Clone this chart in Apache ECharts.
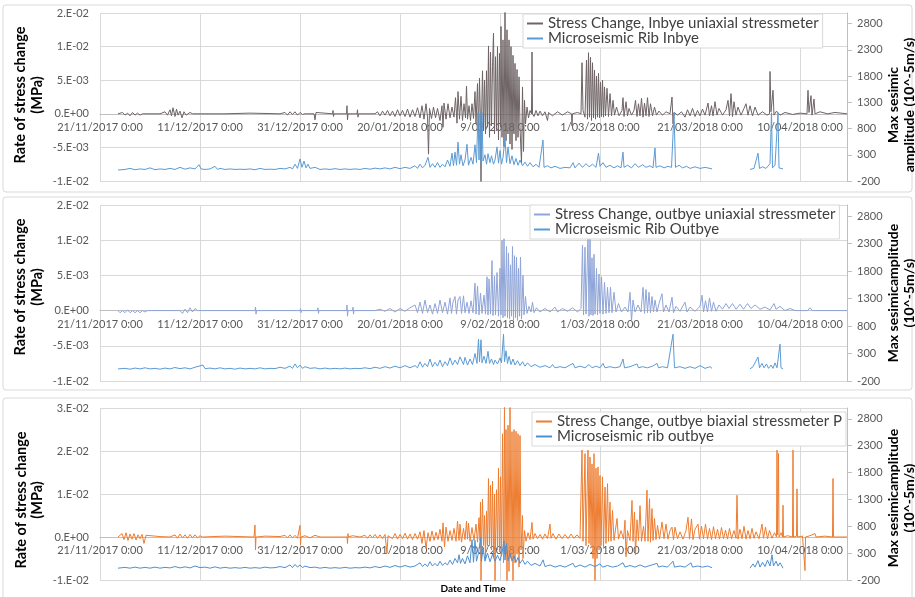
<!DOCTYPE html>
<html>
<head>
<meta charset="utf-8">
<script src="https://cdn.jsdelivr.net/npm/echarts@6/dist/echarts.min.js"></script>
<style>
  html, body { margin: 0; padding: 0; background: #fff; }
  #main { width: 915px; height: 597px; }
</style>
</head>
<body>
<div id="main"></div>
<script>
// x axis: days since 21/11/2017 0:00
const xTickLabels = ['21/11/2017 0:00', '11/12/2017 0:00', '31/12/2017 0:00', '20/01/2018 0:00',
  '9/02/2018 0:00', '1/03/2018 0:00', '21/03/2018 0:00', '10/04/2018 0:00'];

// stress axis ticks (values in 1e-3 MPa) and their printed labels
const stressTicksA = [-10, -5, 0, 5, 10, 15];
const stressLabelsA = ['-1.E-02', '-5.E-03', '0.E+00', '5.E-03', '1.E-02', '2.E-02'];
const stressTicksB = [-10, 0, 10, 20, 30];
const stressLabelsB = ['-1.E-02', '0.E+00', '1.E-02', '2.E-02', '3.E-02'];
const seismicTicks = [-200, 300, 800, 1300, 1800, 2300, 2800];

// [day, stress change x1e-3 MPa]
const inbyeStress = [
  [3.6,0],[4.5,0.2],[5,-0.2],[5.5,0.1],[6,-0.3],[6.5,0.2],[7,-0.2],[7.5,0.1],[8,-0.2],[8.5,0],[12,0],[13,0.3],[13.5,-0.2],
  [14,0.6],[14.3,-0.3],[14.6,0.9],[15,-0.4],[15.3,0.7],[15.6,-0.2],[16,0.4],[16.4,-0.6],[16.8,0.3],[17.2,-0.2],[18,0.2],[18.5,0],
  [25,0],[30,0.1],[36,0],[37,0.2],[37.5,-0.2],[38,0.3],[38.5,-0.1],[39,0.3],[39.5,-0.2],[40,0.2],[40.5,-0.1],[41,0],
  [42.8,0],[43,-0.9],[43.2,0.2],[43.4,0],[46.5,0],[46.6,0.5],[46.7,-0.4],[46.8,0],
  [49.3,0],[49.4,1.2],[49.5,-0.9],[49.6,0],[51.4,0],[51.5,0.6],[51.6,-0.5],[51.7,0],
  [55,0],[55.5,0.3],[56,-0.3],[56.5,0.4],[57,-0.2],[57.5,0.5],[58,-0.3],[58.5,0.4],[59,-0.4],[59.5,0.6],[60,-0.3],[60.5,0.5],
  [61,-0.4],[61.5,0.7],[62,-0.5],[62.5,0.6],[63,-0.4],[63.5,0.9],[64,-0.6],[64.4,1.2],[64.8,-0.8],[65.2,1.5],[65.5,-0.5],[65.7,-6],
  [65.9,0.8],[66.3,-0.7],[66.7,1],[67.1,-0.6],[67.5,0.8],[68,-1],[68.4,1.2],[68.6,-2],[68.8,1.6],[69.2,-0.8],[69.6,1.5],[70,-0.6],
  [70.4,1],[70.8,-0.5],[71.1,2.4],[71.4,-1.4],[71.6,3.3],[71.9,-0.8],[72.2,2.6],[72.5,-1],[72.8,1.5],[73.1,-0.6],[73.3,4.1],[73.5,-0.8],
  [73.8,1.2],[74.1,-1],[74.4,1.5],[74.7,-0.7],[75,3.3],[75.2,-1.5],[75.5,4.5],[75.7,-2.8],[75.9,5.3],[76.1,-1.4],[76.2,-10.5],[76.3,-1],
  [76.5,6.4],[76.7,-2.5],[76.9,5],[77.1,-3],[77.3,6.4],[77.5,-2],[77.7,10.1],[77.9,-3.5],[78.1,9.2],[78.3,-1.8],[78.5,7],[78.7,12],
  [78.9,-3],[79.1,8.5],[79.3,-2.5],[79.5,10],[79.7,-3.9],[79.9,9],[80.1,-2],[80.2,13],[80.4,-3.5],[80.6,11],[80.8,-4.9],[81,15.5],
  [81.2,-4],[81.4,12.5],[81.6,-3],[81.8,11],[82,-4.5],[82.2,10],[82.4,-5.3],[82.6,8.7],[82.8,-3],[83,7.5],[83.2,-4],[83.4,6.6],
  [83.6,-3.5],[83.8,5.5],[84,-2],[84.3,-7.4],[84.5,4],[84.7,-5.6],[84.9,2],[85.1,-1.5],[85.4,1],[85.7,-0.6],[86,0.5],[86.3,0],
  [86.4,9.2],[86.5,0],[86.8,-0.4],[87.2,0.5],[87.6,-0.3],[88,0.4],[88.5,-0.3],[89,0.3],[89.5,-1],[89.7,0.2],[90.5,-0.3],[91.5,0.3],
  [92.5,-0.2],[93.5,0.3],[94.3,0],[94.4,-1.8],[94.5,0],[95.5,0.2],[96.2,0],[96.4,7.6],[96.6,0.5],[97,-0.5],[97.3,8],[97.5,-0.8],
  [97.7,9.1],[97.9,-0.5],[98.1,8.4],[98.3,-1],[98.5,7.6],[98.7,-0.6],[98.9,6.5],[99.1,-0.8],[99.3,5.6],[99.5,-0.5],[99.7,6],[99.9,-0.6],
  [100.1,4.7],[100.3,-0.4],[100.5,5],[100.7,-0.5],[100.9,4],[101.1,-0.3],[101.4,3.8],[101.7,-0.4],[102,3],[102.3,-0.3],[102.6,2],[102.9,-0.2],
  [103.3,1],[103.8,-0.3],[104.4,0.5],[104.6,2.4],[104.8,-0.4],[105.2,1.8],[105.5,-0.3],[105.8,0.8],[106.3,-0.2],[106.8,0.5],[107.1,2],[107.4,-0.4],
  [107.7,1.5],[108,-0.3],[108.3,2.3],[108.6,-0.5],[108.9,1.6],[109.2,-0.3],[109.5,2.4],[109.8,-0.4],[110.1,1.5],[110.5,-0.3],[110.9,1],[111.3,-0.2],
  [111.8,0.4],[112.5,-0.2],[113.2,0.3],[114,0],[114.4,2.5],[114.6,-1.5],[114.8,0.2],[115.5,-0.2],[116.3,0.3],[117,-0.5],[117.5,0.6],[118,-0.3],
  [118.5,0.8],[119,-0.4],[119.5,0.5],[120,-0.3],[120.5,0.7],[121,-0.2],[121.6,1.6],[121.9,-0.3],[122.3,1.2],[122.6,-0.3],[123,1.8],[123.4,-0.2],
  [123.8,0.8],[124.5,-0.2],[125.2,0.6],[125.6,2],[125.9,-0.3],[126.2,3],[126.5,-0.4],[126.8,1.8],[127.2,-0.2],[127.6,1],[128.2,-0.2],[128.8,0.8],
  [129.2,1.5],[129.6,-0.2],[130,1.2],[130.5,-0.3],[131,1],[131.6,-0.2],[132.5,0.3],[133.4,-0.2],[133.9,0],[134,6.3],[134.2,0.3],[134.6,3.5],
  [134.8,-0.2],[135.3,0.4],[136,-0.2],[137,0.2],[138.5,-0.1],[140,0.1],[141.4,0],[141.6,3.5],[141.8,0.2],[142.2,2.7],[142.4,-0.2],[142.8,2.2],
  [143,0],[144,0.3],[145.5,0],[147,0.2],[149.4,0]
];

// [day, max seismic amplitude 10^-5 m/s]
const inbyeSeismic = [
  [3.6,10],[5,20],[6,40],[7,15],[8,30],[9,20],[10,50],[11,15],[12,30],[13,20],[14,40],[15,20],[16,60],[17,25],[18,50],[19,30],
  [19.8,110],[20.2,30],[21,20],[22,30],[23,80],[23.5,20],[24,40],[25,20],[26,30],[27,20],[28,25],[29,20],[30,30],[31,15],[32,40],
  [33,20],[34,25],[35,20],[36,40],[37,30],[38,60],[38.5,30],[39,120],[39.5,40],[40,220],[40.4,60],[40.8,180],[41.2,50],[41.6,120],
  [42,40],[43,60],[44,20],[45,30],[46,20],[47,35],[48,20],[49,30],[50,20],[51,30],[52,20],[53,40],[54,25],[55,45],[56,30],[57,50],
  [58,30],[59,60],[60,35],[61,60],[62,40],[63,90],[63.5,40],[64,120],[64.5,50],[65,100],[65.6,250],[66,60],[66.5,130],[67,60],
  [67.5,150],[68,60],[68.5,120],[69,70],[69.5,200],[70,80],[70.4,330],[70.7,90],[71,350],[71.3,100],[71.6,540],[71.9,120],[72.2,300],
  [72.6,90],[73,200],[73.4,500],[73.7,100],[74.2,250],[74.6,120],[75,490],[75.3,150],[75.6,1100],[75.8,200],[76,1080],[76.2,150],
  [76.4,1100],[76.6,180],[77,300],[77.3,120],[77.6,320],[78,150],[78.3,280],[78.7,120],[79,200],[79.4,450],[79.7,140],[80,380],
  [80.3,120],[80.6,250],[81,620],[81.3,150],[81.6,450],[82,130],[82.4,280],[82.8,110],[83.2,230],[83.6,100],[84,200],[84.5,90],
  [85,160],[85.5,80],[86,150],[86.6,70],[87.2,120],[87.8,60],[88.6,580],[88.8,60],[89.5,90],[90.2,50],[91,80],[92,40],[93,60],
  [94,50],[94.6,150],[95,50],[95.8,140],[96.5,60],[97.2,130],[97.8,70],[98.5,120],[99.2,60],[99.7,330],[100,80],[100.6,150],
  [101.2,60],[102,100],[102.8,50],[103.5,90],[104.2,50],[104.6,350],[104.8,60],[105.5,100],[106.3,50],[107,130],[107.7,60],[108.5,110],
  [109.2,60],[110,90],[110.6,50],[111,430],[111.2,60],[112,90],[112.8,50],[113.6,80],[114.3,60],[114.8,1100],[115.1,60],[115.8,100],
  [116.5,50],[117.3,80],[118,40],[119,70],[120,40],[121,60],[122,40],[122.4,30],[126,'-'],
  [130,20],[130.8,40],[131.6,330],[131.9,40],[132.5,70],[133.2,40],[134,130],[134.3,1100],[134.5,50],[135,100],[135.6,1100],
  [135.8,50],[136.2,80],[136.6,30]
];

const outbyeStress = [
  [3.6,0],[4,-0.3],[4.5,0],[5,-0.3],[5.5,0.1],[6,-0.3],[6.5,0],[7,-0.3],[7.5,0],[8,-0.3],[8.5,0],[9,-0.2],[9.5,0],
  [16,0],[16.5,-0.4],[17,0.2],[17.5,-0.3],[18,0.4],[18.5,-0.2],[19,0.3],[19.5,0],
  [31,0],[31.1,0.5],[31.2,-0.5],[31.3,0],[40,0],[40.1,0.3],[40.2,-0.3],[40.3,0],[43.5,0],[43.6,0.4],[43.7,-0.4],[43.8,0],
  [49.3,0],[49.4,0.8],[49.5,-0.8],[49.6,0],[50.5,0],[50.6,0.5],[50.7,-0.5],[50.8,0],
  [55,0],[56,0.2],[57,-0.1],[58,0.3],[59,-0.2],[60,0.3],[61,-0.1],[62,0.4],[63,0.8],[63.5,-0.3],[64,1.2],[64.5,-0.4],[65,1.5],
  [65.5,-0.3],[66,0.8],[66.5,-0.5],[67,1],[67.5,-0.4],[68,1.5],[68.5,-0.3],[69,1.2],[69.5,-0.5],[70,1.8],[70.3,-0.4],[70.6,1.2],
  [71,2],[71.3,-0.5],[71.6,1.5],[72,2],[72.3,-0.4],[72.7,2.1],[73,-0.3],[73.4,1.2],[73.8,-0.4],[74.2,1.4],[74.6,-0.3],[75,3.9],
  [75.2,-0.5],[75.5,3.5],[75.8,-0.6],[76.1,2.5],[76.4,-0.4],[76.8,2.2],[77.1,-0.5],[77.4,4.8],[77.6,-0.6],[77.8,4.5],[78.1,-0.5],
  [78.4,7.1],[78.6,-0.7],[78.9,4.9],[79.1,-0.6],[79.4,5.4],[79.7,-0.8],[80,6],[80.2,-0.6],[80.4,10],[80.6,-1],[80.8,10.2],[81,-0.8],
  [81.3,9.1],[81.5,-1],[81.7,8.2],[81.9,-1.2],[82.1,6.5],[82.3,-0.8],[82.5,9.1],[82.7,-1.4],[82.9,7.8],[83.1,-1],[83.3,7.6],[83.5,-1.4],
  [83.7,6],[83.9,-0.8],[84.1,7.6],[84.3,-1.2],[84.6,5],[84.8,-0.6],[85.1,2],[85.4,-0.4],[85.8,0.6],[86.2,-0.2],[86.5,1.2],[86.8,-0.3],
  [87.3,0.4],[88,-0.2],[89,0.3],[90,-0.2],[91,0.5],[91.5,-0.2],[92.5,0.3],[93.5,-0.1],[94.5,0.4],[95.5,-0.2],[96.2,0.3],[96.5,9.3],
  [96.7,-0.6],[97,9],[97.2,-0.5],[97.6,10.7],[97.8,-0.8],[98,10.3],[98.2,-0.6],[98.4,7.5],[98.6,-0.7],[98.8,8],[99,-0.5],[99.3,6],
  [99.5,-0.6],[99.8,5.2],[100,-0.4],[100.3,4.8],[100.6,-0.5],[100.9,4],[101.2,-0.4],[101.5,3.3],[101.8,-0.3],[102.1,3.3],[102.4,-0.3],
  [102.8,2.6],[103.2,-0.2],[103.7,1],[104.3,-0.2],[105,0.5],[105.6,-0.2],[106,2.6],[106.3,-1.5],[106.6,1.5],[107,-0.2],[107.6,0.8],
  [108.2,-0.2],[108.6,3.3],[108.9,-0.4],[109.2,3],[109.5,-0.3],[109.8,2.6],[110.1,-0.3],[110.4,2],[110.7,-0.2],[111,1.5],[111.4,-0.2],
  [111.8,1],[112.4,2.4],[112.7,-0.2],[113.2,0.8],[113.8,-0.2],[114.4,1.9],[114.7,-0.3],[115.2,0.6],[116,-0.1],[117,1.2],[117.4,-0.2],
  [118,0.5],[119,-0.1],[120,0.6],[120.4,2.2],[120.7,-0.2],[121.1,1.4],[121.5,-0.2],[121.9,1.8],[122.3,-0.1],[122.7,1.2],[123.2,-0.1],
  [123.8,0.8],[124.5,0.2],[125.2,1],[125.8,0.3],[126.5,1],[127.2,0.2],[128,0.9],[128.7,0.2],[129.5,1],[130.2,0.3],[131,0.8],[132,0.2],
  [133,0.5],[134,0.1],[134.8,1],[135.2,0.2],[136,0.6],[137,0],[138,0.3],[139,0],[141.5,0],[142,0.4],[142.5,0],[149.4,0]
];

const outbyeSeismic = [
  [3.6,20],[5,30],[6,15],[7,35],[8,20],[9,40],[10,20],[11,30],[12,15],[13,35],[14,20],[15,45],[16,25],[17,40],[18,20],[19,50],
  [20.6,90],[21,25],[22,35],[23,20],[24,40],[25,20],[26,30],[27,15],[28,35],[29,20],[30,30],[31,20],[32,40],[33,20],[34,30],
  [35,25],[36,50],[37,30],[38,70],[38.5,30],[39,110],[39.5,40],[40,90],[40.5,30],[41,60],[42,30],[43,40],[44,20],[45,35],[46,20],
  [47,30],[48,20],[49,35],[50,20],[51,30],[52,25],[53,40],[54,25],[55,50],[56,30],[57,60],[58,35],[59,70],[60,40],[61,80],[62,40],
  [63,80],[63.5,40],[64,150],[64.5,50],[65,120],[65.5,60],[66,200],[66.5,60],[67,140],[67.5,70],[68,180],[68.5,60],[69,150],
  [69.5,80],[70,220],[70.5,90],[71,180],[71.5,100],[72,240],[72.4,250],[72.7,100],[73,230],[73.5,90],[74,200],[74.5,100],[75,300],
  [75.4,120],[75.7,560],[75.9,150],[76.2,550],[76.4,130],[76.8,250],[77.2,120],[77.6,340],[77.9,120],[78.3,200],[78.7,100],[79,180],
  [79.5,110],[80,220],[80.3,130],[80.7,650],[80.9,150],[81.2,350],[81.5,120],[81.8,250],[82.2,100],[82.6,200],[83,90],[83.5,170],
  [84,80],[84.5,150],[85,70],[85.5,130],[86.2,60],[87,100],[88,50],[89,80],[90,40],[90.5,100],[91,40],[92,60],[93,40],[94.6,120],
  [95,40],[96,70],[97,40],[97.8,100],[98.4,40],[99.2,70],[100,40],[100.6,120],[101,40],[102,60],[103,40],[104,60],[104.6,200],
  [104.9,40],[106,60],[107.4,110],[107.7,40],[108.5,60],[109.5,40],[110.5,70],[111.4,120],[111.7,40],[112.5,60],[113.5,40],
  [114.6,650],[114.9,40],[116,60],[117,30],[118,60],[119,30],[120,80],[121,30],[122,60],[122.4,30],[126,'-'],
  [130,20],[130.6,60],[131,30],[131.6,235],[131.9,40],[132.4,120],[132.8,40],[133.3,110],[133.7,30],[134.2,90],[134.6,30],
  [135,130],[135.4,40],[136,470],[136.2,40],[136.6,20]
];

const biaxialStress = [
  [3.6,0],[4.4,0.8],[4.8,-0.6],[5.2,1],[5.6,-0.8],[6,0.7],[6.4,-0.5],[6.8,0.8],[7.2,-0.7],[7.6,0.5],[8,-0.4],[8.4,0.6],[8.8,-1.5],
  [9.2,0.4],[9.6,0],[12,0.1],[14,0],[15,0.5],[15.5,-0.3],[16,0.7],[16.5,-0.2],[17,0.5],[17.5,-0.3],[18,0.6],[18.5,-0.2],[19,0.5],
  [19.5,-0.2],[20,0.3],[20.5,0],[25,0.2],[30.8,0],[31,2.8],[31.1,-3],[31.2,0],[33,0.2],[36,0.1],[37,0.4],[37.5,-0.2],[38,0.5],
  [38.5,-0.2],[39,0.4],[39.5,-0.3],[39.9,0],[40,2.7],[40.1,-1.9],[40.2,0],[41,0.3],[42,-0.2],[43,0.4],[44,0],[49.4,0],[49.5,-1.5],
  [49.6,0.8],[49.7,0],[50.5,0.3],[52,0],[53,0.4],[53.5,-0.3],[54,0.5],[54.5,-0.2],[55,0.6],[55.5,-0.3],[56,0.5],[56.5,-0.4],[57,0.6],
  [57.4,-3.8],[57.6,0.3],[58,0.7],[58.5,-0.4],[59,0.8],[59.5,-0.5],[60,0.6],[60.5,-0.4],[61,0.9],[61.5,-0.5],[62,0.7],[62.5,-0.6],
  [63,0.8],[63.5,-0.5],[64,1.2],[64.4,-1.5],[64.8,1.5],[65.2,-2.7],[65.6,1],[66,-1],[66.4,1.4],[66.8,-0.8],[67.2,1.1],[67.6,-0.6],
  [68,1.8],[68.4,-1],[68.6,3.3],[68.9,-2.3],[69.2,2.3],[69.6,-1],[70,1.5],[70.4,-0.8],[70.8,2],[71.2,-1],[71.5,3.7],[71.8,-0.8],
  [72,3],[72.3,-1.2],[72.7,2],[73,-0.6],[73.3,3.7],[73.5,-0.5],[73.7,3.2],[74,-1],[74.4,2.2],[74.8,-0.8],[75.2,3],[75.5,-1.2],
  [75.8,4.5],[76,-0.8],[76.1,8.1],[76.2,-10.5],[76.3,-0.5],[76.5,8.8],[76.7,-2],[76.9,5],[77.1,-5],[77.3,6],[77.5,-2],[77.7,13.6],
  [77.9,-2],[78.1,12],[78.3,-3],[78.5,13],[78.7,-4.6],[78.9,10],[79,-10.5],[79.1,-1],[79.3,11],[79.5,-3],[79.7,16],[79.9,-3.5],
  [80.1,14],[80.3,-4],[80.5,24],[80.7,-6],[80.9,31],[81,-3],[81.2,25],[81.4,-10.5],[81.6,26],[81.8,-8],[82,31],[82.2,-5],[82.4,24.5],
  [82.6,-10.5],[82.8,25],[83,-6],[83.2,24.6],[83.4,-4],[83.6,24],[83.8,-7],[84,23.6],[84.2,-3],[84.5,5],[84.6,-5],[84.9,1.5],
  [85.2,-1],[85.6,1],[86,-0.6],[86.4,3.4],[86.6,-0.5],[87,0.8],[87.5,-0.4],[88,0.6],[88.5,-0.5],[89,0.7],[89.5,-0.4],[90,3],
  [90.2,-0.3],[90.6,0.8],[91.2,-0.5],[91.8,0.7],[92.4,-0.4],[93,0.6],[93.6,-0.4],[94.2,0.7],[94.8,-0.3],[95.4,0.5],[96,-0.3],
  [96.4,20.2],[96.6,-1],[97,19.4],[97.2,-2],[97.6,20.2],[97.8,-1.5],[98,18.6],[98.2,-2],[98.4,17],[98.6,-5],[98.8,19.4],[99,-10.5],
  [99.2,16],[99.4,-5],[99.6,16.3],[99.8,-3],[100,14.3],[100.2,-2],[100.5,14],[100.7,-2.5],[101,11.6],[101.2,-1.5],[101.5,12.4],
  [101.7,-1],[102,8.1],[102.2,-1],[102.5,6.2],[102.8,-0.8],[103.4,4.3],[103.7,-0.5],[104.2,1.5],[104.7,-0.5],[105,3.9],[105.2,-4.6],
  [105.5,1.5],[106,-0.8],[106.4,8.5],[106.6,-1],[106.9,5.8],[107.1,-4.2],[107.4,4],[107.7,-0.8],[108,7.3],[108.3,-1],[108.7,2.5],
  [109,-1],[109.4,10.9],[109.6,-1],[109.9,8.9],[110.1,-1.2],[110.4,6.6],[110.6,-0.8],[110.9,4.3],[111.2,-0.6],[111.5,2.7],[111.9,-0.5],
  [112.4,3.5],[112.8,-0.4],[113.2,3],[113.6,-0.5],[114,1.5],[114.4,2.3],[114.7,-0.6],[115,2.3],[115.5,-0.4],[116,1.2],[116.6,-0.5],
  [117.2,1.5],[117.6,4.6],[117.9,-0.5],[118.3,4.2],[118.6,-0.6],[119,1.8],[119.6,3],[119.9,-0.5],[120.3,2.5],[120.7,-0.4],[121.1,3],
  [121.5,-0.5],[121.9,2],[122.3,-0.6],[122.7,2.4],[123.1,-0.4],[123.5,1.8],[123.9,-0.5],[124.3,2.2],[124.7,-0.4],[125.1,1.6],
  [125.5,-0.5],[125.9,2],[126.3,-0.4],[126.8,1.5],[127.2,-0.3],[127.4,9.7],[127.6,-0.5],[128,1.8],[128.4,-0.4],[128.8,2.5],
  [129.2,-0.5],[129.6,1.5],[130,-0.4],[130.4,2],[130.8,-0.3],[131.2,1.2],[131.8,-0.4],[132.4,3],[132.7,-0.3],[133.1,2.3],[133.5,-0.4],
  [133.9,1.5],[134.4,-0.3],[134.9,1],[135.3,0],[135.4,20.2],[135.5,0.5],[135.7,19.4],[135.8,0],[136.2,1],[136.5,0],[136.6,7.4],
  [136.7,0],[137.5,0.3],[138.5,0],[138.6,20.2],[138.7,0],[139.3,0.2],[139.4,11.2],[139.5,0],[140.5,0.2],[140.9,0],[141,-7.8],
  [141.1,0],[142,0.3],[143,0.8],[143.2,0],[145,0.2],[146.5,0],[146.6,13.6],[146.7,0],[149.4,0]
];

const biaxialSeismic = [
  [3.6,20],[5,35],[6,20],[7,40],[8,20],[9,35],[10,20],[11,40],[12,20],[13,35],[14,25],[15,50],[16,25],[17,45],[18,25],[19,60],
  [20,30],[21,40],[22,20],[23,45],[24,20],[25,35],[26,20],[27,30],[28,20],[29,35],[30,20],[31,30],[32,20],[33,40],[34,25],
  [35,30],[36,50],[37,30],[38,80],[38.5,30],[39,90],[39.5,40],[40,80],[40.5,30],[41,60],[42,30],[43,40],[44,20],[45,35],[46,20],
  [47,30],[48,20],[49,35],[50,20],[51,30],[52,25],[53,40],[54,25],[55,50],[56,30],[57,60],[58,35],[59,70],[60,40],[61,70],[62,40],
  [63,60],[64,120],[64.5,50],[65,100],[65.5,50],[66,140],[66.5,60],[67,110],[67.5,60],[68,150],[68.5,70],[69,120],[69.5,80],
  [70,170],[70.5,90],[71,200],[71.5,120],[71.8,270],[72.1,110],[72.5,200],[73,100],[73.5,250],[74,120],[74.4,550],[74.7,130],
  [75,540],[75.3,150],[75.7,300],[76.1,585],[76.3,150],[76.6,400],[77,150],[77.5,300],[78,140],[78.5,280],[79,150],[79.5,260],
  [80,160],[80.4,300],[80.8,530],[81,170],[81.3,480],[81.6,160],[82,300],[82.4,150],[82.8,250],[83.2,130],[83.6,220],[84,110],
  [84.5,180],[85,90],[85.5,150],[86.2,70],[87,110],[88,60],[88.6,175],[89,50],[90,80],[91,40],[92,70],[93,40],[94.6,110],[95,40],
  [96,80],[97,40],[98,90],[99,50],[100,100],[100.5,40],[101.5,70],[102.5,40],[103.5,60],[104.6,120],[105,40],[106,70],[107,40],
  [108,80],[109,40],[110,70],[111.4,110],[111.7,40],[112.5,60],[113.5,40],[114.6,150],[114.9,40],[116,60],[117,40],[118.2,120],
  [118.5,40],[119.5,60],[120.5,40],[121.5,60],[122.4,30],[126,'-'],
  [130,20],[130.6,100],[131,40],[131.6,160],[132,40],[132.5,130],[133,50],[133.5,170],[134,60],[134.4,270],[134.7,60],[135.2,150],
  [135.6,60],[136,120],[136.6,20]
];

// layout per panel; xOffset lifts the date axis up to the stress zero line
const panels = [
  { top: 13, height: 168, xOffset: -67.2, ticks: stressTicksA, labels: stressLabelsA, step: 5, max: 15,
    stressName: 'Stress Change, Inbye uniaxial stressmeter', stress: inbyeStress, stressColor: '#6e6365',
    seismicName: 'Microseismic Rib Inbye', seismic: inbyeSeismic, seismicColor: '#5b9bd5',
    legendTop: 14, legendLeft: 523 },
  { top: 205, height: 176, xOffset: -70.4, ticks: stressTicksA, labels: stressLabelsA, step: 5, max: 15,
    stressName: 'Stress Change, outbye uniaxial stressmeter', stress: outbyeStress, stressColor: '#8fa5d9',
    seismicName: 'Microseismic Rib Outbye', seismic: outbyeSeismic, seismicColor: '#5b9bd5',
    legendTop: 205, legendLeft: 530 },
  { top: 408, height: 172, xOffset: -43, ticks: stressTicksB, labels: stressLabelsB, step: 10, max: 30,
    stressName: 'Stress Change, outbye biaxial stressmeter P', stress: biaxialStress, stressColor: '#ed7d31',
    seismicName: 'Microseismic rib outbye', seismic: biaxialSeismic, seismicColor: '#4f90d0',
    legendTop: 412, legendLeft: 532 }
];

const font = 'Lato, "Open Sans", sans-serif';
const narrowFont = '"Liberation Sans Narrow", Lato, sans-serif';
const grid = [], xAxis = [], yAxis = [], series = [], legend = [];

panels.forEach(function (p, i) {
  grid.push({ left: 100, right: 68, top: p.top, height: p.height });
  xAxis.push({
    type: 'value', gridIndex: i, min: 0, max: 149.4, interval: 20, position: 'bottom', offset: p.xOffset,
    axisLine: { onZero: false, lineStyle: { color: '#bfbfbf' } },
    axisTick: { show: false },
    axisLabel: {
      color: '#595959', fontSize: 11, fontFamily: font, margin: 8, showMaxLabel: false,
      formatter: function (v) {
        const k = Math.round(v / 20);
        return Math.abs(v - k * 20) < 0.01 && k < xTickLabels.length ? xTickLabels[k] : '';
      }
    },
    splitLine: { show: true, lineStyle: { color: '#d9d9d9' } }
  });
  yAxis.push({
    type: 'value', gridIndex: i, position: 'left', min: -10, max: p.max, interval: p.step,
    axisLine: { show: false }, axisTick: { show: false },
    axisLabel: {
      color: '#595959', fontSize: 11, fontFamily: font, margin: 11,
      formatter: function (v) {
        const k = p.ticks.indexOf(Math.round(v));
        return k >= 0 ? p.labels[k] : '';
      }
    },
    splitLine: { show: true, lineStyle: { color: '#d9d9d9' } }
  });
  yAxis.push({
    type: 'value', gridIndex: i, position: 'right', min: -200, max: 3000,
    axisLine: { show: true, lineStyle: { color: '#bfbfbf' } },
    axisTick: { show: true, length: 5, customValues: seismicTicks, lineStyle: { color: '#bfbfbf' } },
    axisLabel: { customValues: seismicTicks, color: '#595959', fontSize: 11, fontFamily: font, margin: 10,
      formatter: function (v) { return String(v); } },
    splitLine: { show: false }
  });
  series.push({
    name: p.stressName, type: 'line', xAxisIndex: i, yAxisIndex: 2 * i, data: p.stress,
    showSymbol: false, color: p.stressColor, lineStyle: { width: 1 }, z: 2
  });
  series.push({
    name: p.seismicName, type: 'line', xAxisIndex: i, yAxisIndex: 2 * i + 1, data: p.seismic,
    showSymbol: false, color: p.seismicColor, lineStyle: { width: 1 }, z: 3
  });
  legend.push({
    data: [p.stressName, p.seismicName], orient: 'vertical', left: p.legendLeft, top: p.legendTop,
    icon: 'rect', itemWidth: 16, itemHeight: 2, itemGap: 0, padding: [2, 4],
    backgroundColor: '#fff', borderColor: '#d9d9d9', borderWidth: 1,
    textStyle: { color: '#404040', fontSize: 15, fontFamily: font }
  });
});

function frame(y, h) {
  return { type: 'rect', silent: true, z: -10, shape: { x: 3, y: y, width: 909, height: h, r: 3 },
    style: { fill: 'none', stroke: '#d9d9d9', lineWidth: 1 } };
}
function title(x, y, text, size, family, lh) {
  return { type: 'text', x: x, y: y, rotation: Math.PI / 2, silent: true,
    style: { text: text, font: 'bold ' + size + 'px ' + family, fill: '#000', textAlign: 'center',
      textVerticalAlign: 'middle', lineHeight: lh } };
}

const chart = echarts.init(document.getElementById('main'), null, { renderer: 'canvas' });
chart.setOption({
  animation: false,
  backgroundColor: '#fff',
  grid: grid, xAxis: xAxis, yAxis: yAxis, series: series, legend: legend,
  graphic: [
    frame(5, 187), frame(197, 193), frame(398, 205),
    title(28.5, 95, 'Rate of stress change\n(MPa)', 14.5, narrowFont, 17),
    title(28.5, 287, 'Rate of stress change\n(MPa)', 14.5, narrowFont, 17),
    title(29, 500, 'Rate of stress change\n(MPa)', 14.5, font, 16),
    title(901, 105, 'Max sesimic\namplitude (10^-5m/s)', 14, font, 16),
    title(901, 293, 'Max sesimicamplitude\n(10^-5m/s)', 14, font, 16),
    title(901, 498, 'Max sesimicamplitude\n(10^-5m/s)', 14, font, 16),
    { type: 'text', x: 473, y: 589, silent: true,
      style: { text: 'Date and Time', font: 'bold 10px ' + font, fill: '#000', textAlign: 'center', textVerticalAlign: 'middle' } }
  ]
});
</script>
</body>
</html>
